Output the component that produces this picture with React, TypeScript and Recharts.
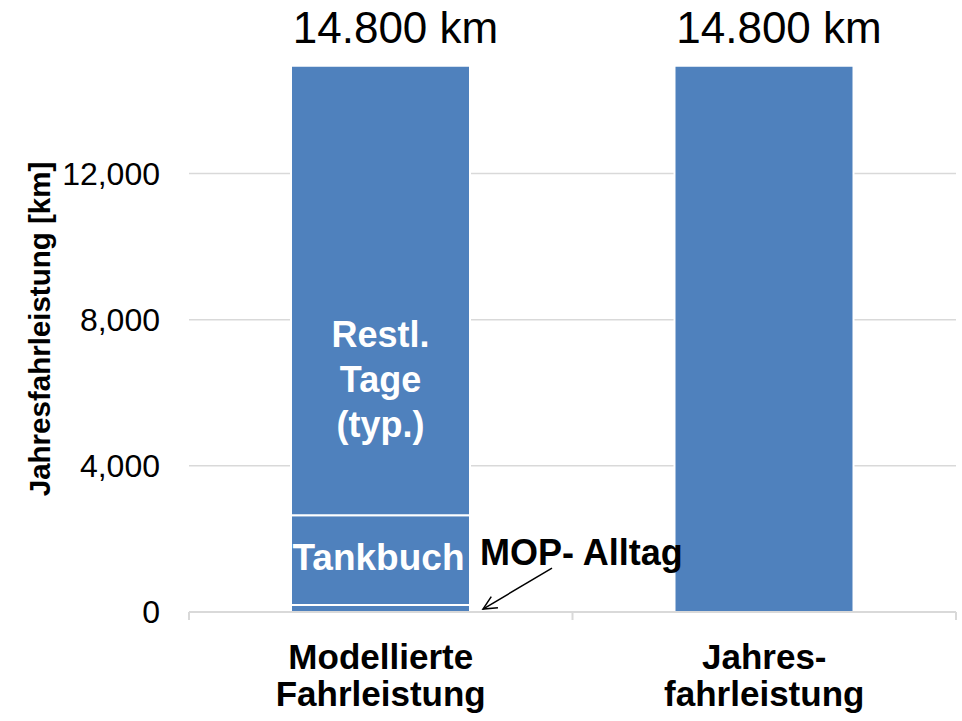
import React from 'react';
import {
  BarChart, Bar, XAxis, YAxis, CartesianGrid, LabelList, Label,
} from 'recharts';

const W = 962;
const H = 721;
const Y_AXIS_WIDTH = 189;
const X_AXIS_HEIGHT = 109;
const Y_MAX = 15000;
const margin = { top: 64, right: 6, left: 0, bottom: 0 };

const categories = ['Modellierte\nFahrleistung', 'Jahres-\nfahrleistung'];
const mopAlltag = [190, 0];
const tankbuch = [2460, 0];
const restlTage = [12300, 0];
const jahresfahrleistung = [0, 14950];
const totalLabels = ['14.800 km', '14.800 km'];
const yTicks = [0, 4000, 8000, 12000];

const data = categories.map((name, i) => ({
  name,
  mop: mopAlltag[i],
  tankbuch: tankbuch[i],
  restl: restlTage[i],
  jahres: jahresfahrleistung[i],
  total: totalLabels[i],
}));

const BLUE = '#4F81BD';
const GRID = '#D9D9D9';
const FONT = '"Liberation Sans", Arial, sans-serif';

const plotWidth = W - margin.left - margin.right - Y_AXIS_WIDTH;
const band = plotWidth / categories.length;

// grid only at the tick values, not at the top of the domain
function gridYs({ yAxis, offset }: any) {
  const s = yAxis && yAxis.scale;
  if (typeof s === 'function') return yTicks.map((t) => s(t));
  if (s && typeof s.map === 'function') return yTicks.map((t) => s.map(t));
  return yTicks.map((t) => offset.top + offset.height * (1 - t / Y_MAX));
}

function CategoryTick(props: any) {
  const { x, y, payload, index } = props;
  const lines = String(payload.value).split('\n');
  const isLast = index === categories.length - 1;
  return (
    <g>
      <line x1={x - band / 2} x2={x - band / 2} y1={y} y2={y + 8} stroke={GRID} strokeWidth={2} />
      {isLast && (
        <line x1={x + band / 2} x2={x + band / 2} y1={y} y2={y + 8} stroke={GRID} strokeWidth={2} />
      )}
      <text x={x} y={y} textAnchor="middle" fontSize={35} fontWeight="bold" fill="#000" fontFamily={FONT}>
        {lines.map((l, i) => (
          <tspan key={i} x={x} y={y + 57 + i * 37}>{l}</tspan>
        ))}
      </text>
    </g>
  );
}

function TotalLabel(props: any) {
  const { x, y, width, height, value } = props;
  if (!height || height <= 0) return null;
  return (
    <text x={x + width / 2 + 15} y={y - 23} textAnchor="middle" fontSize={44} fill="#000" fontFamily={FONT}>
      {value}
    </text>
  );
}

function RestlLabel(props: any) {
  const { x, y, width, height } = props;
  if (!height || height <= 0) return null;
  const cx = x + width / 2;
  const mid = y + height / 2;
  const lines = ['Restl.', 'Tage', '(typ.)'];
  return (
    <text textAnchor="middle" fontSize={36} fontWeight="bold" fill="#fff" fontFamily={FONT}>
      {lines.map((l, i) => (
        <tspan key={i} x={cx} y={mid + 56 + i * 45}>{l}</tspan>
      ))}
    </text>
  );
}

function TankbuchLabel(props: any) {
  const { x, y, width, height } = props;
  if (!height || height <= 0) return null;
  return (
    <text x={x + width / 2 - 2} y={y + height / 2 + 10} textAnchor="middle" fontSize={37} fontWeight="bold" fill="#fff" fontFamily={FONT}>
      Tankbuch
    </text>
  );
}

function MopLabel(props: any) {
  const { x, y, width, height } = props;
  if (!height || height <= 0) return null;
  const right = x + width;
  const sx = right + 82;
  const sy = y - 37;
  const ex = right + 13;
  const ey = y + 4;
  const ang = Math.atan2(ey - sy, ex - sx);
  const len = 15;
  const a1 = ang + Math.PI - 0.45;
  const a2 = ang + Math.PI + 0.45;
  return (
    <g>
      <text x={right + 10} y={y - 40} fontSize={36} fontWeight="bold" fill="#000" fontFamily={FONT}>
        MOP- Alltag
      </text>
      <line x1={sx} y1={sy} x2={ex} y2={ey} stroke="#000" strokeWidth={1.5} />
      <polyline
        points={`${ex + len * Math.cos(a1)},${ey + len * Math.sin(a1)} ${ex},${ey} ${ex + len * Math.cos(a2)},${ey + len * Math.sin(a2)}`}
        fill="none"
        stroke="#000"
        strokeWidth={1.5}
      />
    </g>
  );
}

function YAxisTitle(props: any) {
  const { viewBox } = props;
  const cx = viewBox.x + 50;
  const cy = viewBox.y + viewBox.height / 2 - 9;
  return (
    <text x={cx} y={cy} transform={`rotate(-90, ${cx}, ${cy})`} textAnchor="middle" fontSize={29.5} fontWeight="bold" fill="#000" fontFamily={FONT}>
      Jahresfahrleistung [km]
    </text>
  );
}

export default function App() {
  return (
    <div style={{ position: 'absolute', left: 0, top: 0, width: W, height: H, background: '#fff' }}>
      <BarChart width={W} height={H} data={data} margin={margin} barSize={179}>
        <CartesianGrid
          vertical={false}
          stroke={GRID}
          strokeWidth={1.5}
          horizontalCoordinatesGenerator={gridYs}
        />
        <XAxis
          dataKey="name"
          height={X_AXIS_HEIGHT}
          axisLine={{ stroke: GRID, strokeWidth: 2 }}
          tickLine={false}
          tickSize={0}
          tickMargin={0}
          interval={0}
          tick={<CategoryTick />}
        />
        <YAxis
          width={Y_AXIS_WIDTH}
          domain={[0, Y_MAX]}
          ticks={yTicks}
          allowDataOverflow
          axisLine={false}
          tickLine={false}
          tickSize={0}
          tickMargin={29}
          tickFormatter={(v: number) => v.toLocaleString('en-US')}
          tick={{ fontSize: 32, fill: '#000', fontFamily: FONT }}
        >
          <Label content={<YAxisTitle />} />
        </YAxis>
        <Bar dataKey="mop" stackId="a" fill={BLUE} stroke="#fff" strokeWidth={2} isAnimationActive={false}>
          <LabelList dataKey="mop" content={<MopLabel />} />
        </Bar>
        <Bar dataKey="tankbuch" stackId="a" fill={BLUE} stroke="#fff" strokeWidth={2} isAnimationActive={false}>
          <LabelList dataKey="tankbuch" content={<TankbuchLabel />} />
        </Bar>
        <Bar dataKey="restl" stackId="a" fill={BLUE} stroke="#fff" strokeWidth={2} isAnimationActive={false}>
          <LabelList dataKey="restl" content={<RestlLabel />} />
          <LabelList dataKey="total" content={<TotalLabel />} />
        </Bar>
        <Bar dataKey="jahres" stackId="a" fill={BLUE} stroke="#fff" strokeWidth={2} isAnimationActive={false}>
          <LabelList dataKey="total" content={<TotalLabel />} />
        </Bar>
      </BarChart>
    </div>
  );
}
